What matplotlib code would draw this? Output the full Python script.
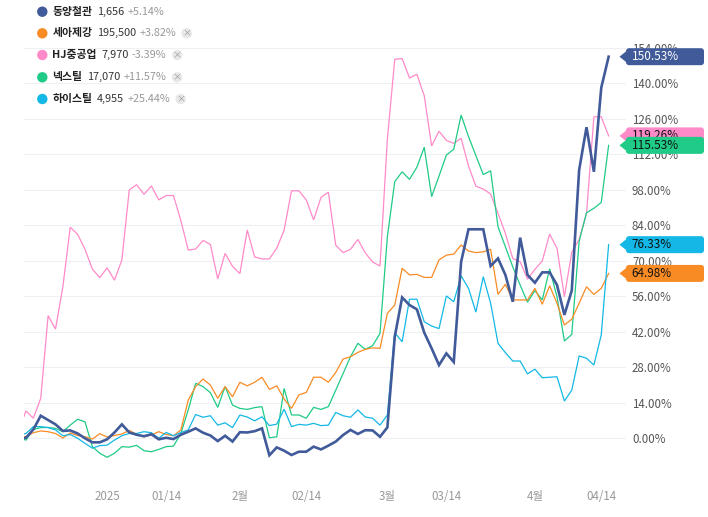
import numpy as np
import matplotlib
matplotlib.use('Agg')
import matplotlib.pyplot as plt
from matplotlib.patches import Circle, Polygon, FancyBboxPatch
from matplotlib.transforms import IdentityTransform

plt.rcParams['font.family'] = ['Noto Sans CJK KR', 'DejaVu Sans']

# 종목 정보
names = ['동양철관', '세아제강', 'HJ중공업', '넥스틸', '하이스틸']
prices = ['1,656', '195,500', '7,970', '17,070', '4,955']
changes = ['+5.14%', '+3.82%', '-3.39%', '+11.57%', '+25.44%']
colors = ['#405A9A', '#F98B25', '#FF8AC9', '#1FCB86', '#14B8E6']
last_labels = ['150.53%', '64.98%', '119.26%', '115.53%', '76.33%']

# x축 (거래일 인덱스)
tick_pos = [11, 19, 29, 38, 49, 57, 69, 78]
tick_labels = ['2025', '01/14', '2월', '02/14', '3월', '03/14', '4월', '04/14']
y_ticks = np.arange(0, 155, 14)

# 수익률 (%)
dongyang = [-0.3, 0.1, 3.4, 8.8, 7.1, 5.4, 2.8, 3.0, 1.8, -0.1, -1.7,
            -1.7, -0.5, 2.2, 5.4, 2.2, 1.3, 0.7, 1.5, -0.5, 0.1,
            -0.4, 1.3, 2.5, 3.8, 2.1, 1.0, -1.2, 0.9, -1.4, 2.3,
            2.2, 2.7, 3.8, -6.8, -3.7, -5.0, -6.7, -5.4, -5.4, -3.4,
            -4.5, -3.0, -1.4, 1.2, 3.2, 1.6, 3.1, 3.0, 0.5, 4.2,
            40.0, 55.5, 52.5, 50.8, 41.6, 35.4, 28.8, 33.4, 30.0, 69.6,
            82.4, 82.4, 82.4, 67.9, 70.9, 64.4, 53.8, 79.1, 64.4, 61.3,
            65.4, 65.4, 60.4, 48.6, 58.2, 105.8, 122.7, 105.1, 138.3, 150.53]
seah = [0.0, 0.6, 2.1, 2.8, 2.5, 1.8, 0.0, 2.0, 1.0, 0.5, -0.4,
        1.7, 0.4, 1.0, 1.6, 3.0, 1.5, 0.5, 1.2, 2.5, 1.4,
        0.9, 3.2, 15.0, 20.3, 23.3, 20.9, 15.7, 20.3, 16.3, 22.0,
        20.6, 22.0, 24.0, 19.2, 20.6, 15.4, 11.7, 17.0, 18.0, 24.0,
        24.0, 22.0, 25.9, 31.2, 32.1, 33.8, 35.0, 35.6, 35.4, 49.2,
        52.5, 67.0, 64.4, 64.6, 63.4, 63.4, 70.3, 72.2, 72.6, 76.2,
        73.8, 73.2, 73.5, 74.5, 56.7, 60.7, 54.5, 54.5, 54.5, 59.1,
        52.8, 60.1, 53.2, 44.6, 46.9, 53.2, 59.7, 56.7, 59.1, 64.98]
hj = [3.0, 10.7, 7.8, 15.7, 48.3, 43.0, 59.7, 83.2, 80.4, 74.5, 66.7,
      63.3, 67.2, 62.3, 70.3, 97.9, 100.0, 96.2, 99.5, 94.0, 95.7,
      95.7, 85.8, 74.2, 74.6, 78.0, 76.4, 62.8, 72.9, 67.8, 64.9,
      82.1, 71.5, 70.7, 70.7, 74.9, 82.1, 97.6, 97.6, 94.0, 86.1,
      95.0, 97.0, 76.1, 73.2, 74.5, 78.4, 73.1, 69.5, 67.9, 118.0,
      149.5, 149.8, 142.1, 143.6, 135.1, 115.3, 121.1, 117.5, 116.3, 118.3,
      107.4, 99.4, 98.3, 96.3, 88.7, 80.8, 70.9, 69.6, 62.7, 66.6,
      69.9, 80.5, 74.9, 55.8, 73.3, 78.4, 88.7, 126.8, 126.8, 119.26]
nexteel = [0.0, -0.8, 3.4, 4.1, 4.2, 3.8, 2.5, 5.1, 7.4, 6.4, -3.4,
           -6.0, -7.6, -6.0, -3.4, -3.6, -2.9, -5.0, -5.4, -4.5, -3.4,
           -3.2, 1.8, 11.1, 21.6, 20.3, 17.9, 12.1, 20.3, 13.0, 11.7,
           11.3, 12.0, 12.4, 0.1, 0.5, 19.6, 9.1, 9.1, 7.8, 12.1,
           11.3, 12.4, 18.9, 25.5, 32.1, 37.4, 35.0, 36.5, 41.3, 79.5,
           101.2, 105.1, 102.1, 106.9, 114.8, 95.3, 103.4, 111.7, 114.0, 127.5,
           119.0, 111.5, 104.0, 105.5, 83.4, 75.5, 67.6, 60.4, 53.6, 58.2,
           54.5, 66.8, 55.8, 38.3, 40.9, 77.6, 88.9, 90.7, 93.0, 115.53]
histeel = [1.2, 1.8, 4.5, 4.5, 4.1, 3.2, 0.9, 1.4, -0.1, -2.1, -4.0,
           -3.0, -2.8, -0.8, 0.9, 1.8, 1.8, 2.5, 2.1, -0.1, 2.2,
           0.9, 2.2, 3.2, 9.3, 8.2, 8.8, 5.1, 6.0, 4.1, 9.1,
           8.3, 6.8, 8.4, 4.9, 5.5, 11.4, 4.5, 5.4, 5.1, 5.8,
           4.9, 5.1, 10.1, 8.8, 8.2, 11.1, 8.3, 7.8, 5.1, 9.1,
           41.6, 38.0, 54.8, 54.8, 45.9, 44.2, 43.2, 56.1, 53.8, 64.0,
           59.1, 49.7, 63.7, 53.2, 37.4, 33.7, 30.4, 30.4, 25.3, 27.2,
           23.8, 24.0, 24.2, 14.6, 18.9, 32.4, 31.5, 28.8, 40.7, 76.33]

series = [dongyang, seah, hj, nexteel, histeel]
days = np.arange(-1, len(dongyang) - 1)

W, H = 708, 517
fig = plt.figure(figsize=(W / 100, H / 100), dpi=100)
ax = fig.add_axes([24 / W, 1 - 473.5 / H, 601.6 / W, 440.8 / H])
ax.set_xlim(-0.27, 81.3)
ax.set_ylim(-14, 160)

# 선 그리기 (동양철관은 굵게, 맨 위)
for idx in [2, 3, 1, 4, 0]:
    lw = 1.9 if idx == 0 else 0.9
    ax.plot(days, series[idx], color=colors[idx], linewidth=lw,
            solid_joinstyle='miter', zorder=3 + (idx == 0))

# 축 꾸미기
for sp in ax.spines.values():
    sp.set_visible(False)
ax.set_yticks(y_ticks)
ax.set_yticklabels([f'{v:.2f}%' for v in y_ticks])
ax.yaxis.tick_right()
ax.set_xticks(tick_pos)
ax.set_xticklabels(tick_labels)
ax.tick_params(axis='y', length=0, pad=4.6, labelsize=8.3, labelcolor='#555555')
ax.tick_params(axis='x', length=0, pad=12, labelsize=8.3, labelcolor='#999999')
ax.grid(axis='y', color='#EEF0F3', linewidth=0.8)
ax.set_axisbelow(True)

# 오른쪽 마지막 값 태그
ident = IdentityTransform()
tag_order = [0, 1, 4, 2, 3]
for z, idx in enumerate(tag_order):
    yc = ax.transData.transform((0, series[idx][-1]))[1]
    body = FancyBboxPatch((626, yc - 8.5), 78, 17,
                          boxstyle='round,pad=0,rounding_size=3',
                          transform=ident, facecolor=colors[idx],
                          edgecolor='none', zorder=10 + 2 * z)
    tip = Polygon([(619.5, yc), (630, yc + 8.5), (630, yc - 8.5)],
                  closed=True, transform=ident, facecolor=colors[idx],
                  edgecolor='none', zorder=10 + 2 * z)
    fig.add_artist(body)
    fig.add_artist(tip)
    txt_color = 'white' if idx == 0 else '#111111'
    fig.text(631.5 / W, yc / H, last_labels[idx], ha='left', va='center',
             fontsize=8.5, color=txt_color, zorder=11 + 2 * z)

# 범례 (왼쪽 위)
fig.canvas.draw()
renderer = fig.canvas.get_renderer()
legend_y = [11.7, 33.3, 55.0, 77.3, 99.0]
for i in range(len(names)):
    yc = H - legend_y[i]
    fig.add_artist(Circle((42.3, yc), 5.2, transform=ident,
                          facecolor=colors[i], edgecolor='none'))
    x = 52.3
    parts = [(names[i], '#222222', 'bold', 4.5),
             (prices[i], '#333333', 'normal', 3.3),
             (changes[i], '#999999', 'normal', 0)]
    for text, col, weight, gap in parts:
        t = fig.text(x / W, yc / H, text, ha='left', va='center',
                     fontsize=7.8, color=col, fontweight=weight)
        bb = t.get_window_extent(renderer)
        x = bb.x1 + gap
    if i > 0:
        cx = x + 10.7
        fig.add_artist(Circle((cx, yc), 5.2, transform=ident,
                              facecolor='#E8E8E8', edgecolor='none'))
        fig.text(cx / W, yc / H, '×', ha='center', va='center',
                 fontsize=6.5, color='#9A9A9A')

fig.savefig('out.png', dpi=100)
